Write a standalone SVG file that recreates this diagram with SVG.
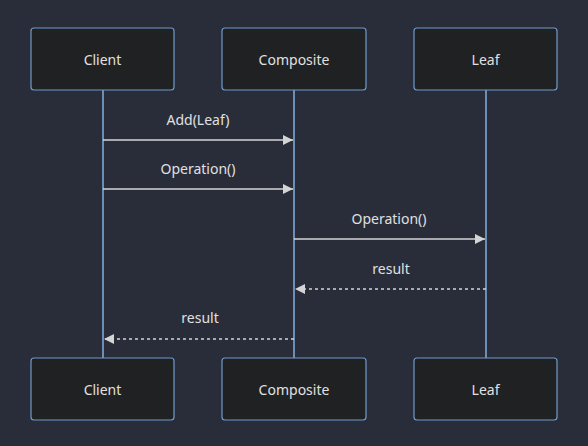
<svg xmlns="http://www.w3.org/2000/svg" width="588" height="446" viewBox="0 0 588 446">
<style>
.box{fill:#202123;stroke:#6f9acb;stroke-width:1.2}
.lbl{font-family:"Noto Sans","DejaVu Sans",sans-serif;font-size:14px;fill:#e0e0e0;text-anchor:middle;dominant-baseline:central}
.life{stroke:#85aee0;stroke-width:1.5}
.msg{stroke:#d4d4d4;stroke-width:1.5;fill:none}
.dash{stroke-dasharray:3,3}
.mt{font-family:"Noto Sans","DejaVu Sans",sans-serif;font-size:14px;fill:#e0e0e0;text-anchor:middle}
</style>
<defs>
<marker id="ah" viewBox="0 0 10 10" refX="10" refY="5" markerWidth="10" markerHeight="10" markerUnits="userSpaceOnUse" orient="auto">
<path d="M0,0 L10,5 L0,10 z" fill="#d4d4d4"/>
</marker>
</defs>
<rect width="588" height="446" fill="#292d3a"/>
<g id="lifelines">
<line class="life" x1="103" y1="90" x2="103" y2="358"/>
<line class="life" x1="294" y1="90" x2="294" y2="358"/>
<line class="life" x1="486" y1="90" x2="486" y2="358"/>
</g>
<g id="node-client-top"><rect class="box" x="31" y="28" width="143" height="62" rx="3"/><text class="lbl" x="102.5" y="59">Client</text></g>
<g id="node-composite-top"><rect class="box" x="222" y="28" width="144" height="62" rx="3"/><text class="lbl" x="294" y="59">Composite</text></g>
<g id="node-leaf-top"><rect class="box" x="414" y="28" width="143" height="62" rx="3"/><text class="lbl" x="485.5" y="59">Leaf</text></g>
<g id="node-client-bottom"><rect class="box" x="31" y="358" width="143" height="62" rx="3"/><text class="lbl" x="102.5" y="389">Client</text></g>
<g id="node-composite-bottom"><rect class="box" x="222" y="358" width="144" height="62" rx="3"/><text class="lbl" x="294" y="389">Composite</text></g>
<g id="node-leaf-bottom"><rect class="box" x="414" y="358" width="143" height="62" rx="3"/><text class="lbl" x="485.5" y="389">Leaf</text></g>
<g id="connectors">
<line class="msg" x1="103" y1="140" x2="293" y2="140" marker-end="url(#ah)"/>
<text class="mt" x="198" y="125">Add(Leaf)</text>
<line class="msg" x1="103" y1="189" x2="293" y2="189" marker-end="url(#ah)"/>
<text class="mt" x="198" y="174">Operation()</text>
<line class="msg" x1="294" y1="239" x2="485" y2="239" marker-end="url(#ah)"/>
<text class="mt" x="389" y="224">Operation()</text>
<line class="msg dash" x1="486" y1="289" x2="295" y2="289" marker-end="url(#ah)"/>
<text class="mt" x="391" y="274">result</text>
<line class="msg dash" x1="294" y1="339" x2="104" y2="339" marker-end="url(#ah)"/>
<text class="mt" x="200" y="323">result</text>
</g>
</svg>
